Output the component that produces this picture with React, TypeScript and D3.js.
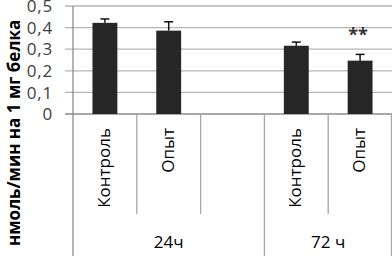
import React, { useEffect, useRef } from 'react'
import * as d3 from 'd3'

const categories = ['Контроль', 'Опыт', '', 'Контроль', 'Опыт']
const values = [0.422, 0.386, null, 0.316, 0.247]
const errors = [0.018, 0.041, null, 0.017, 0.029]
const marks = ['', '', '', '', '**']
const groups = ['24ч', '72 ч']
const groupSpans = [3, 2]
const yTicks = [0, 0.1, 0.2, 0.3, 0.4, 0.5]
const yTitle = 'нмоль/мин на 1 мг белка'

const App = () => {
  const svgRef = useRef<SVGSVGElement>(null)

  useEffect(() => {
    const width = 392
    const height = 256
    const left = 73
    const top = 6
    const base = 114
    const font = '"Open Sans", "Liberation Sans", sans-serif'

    const svg = d3.select(svgRef.current).attr('width', width).attr('height', height)
    svg.selectAll('*').remove()

    const slots = categories.map((_, i) => i)
    const x = d3.scaleBand<number>().domain(slots).range([left, width]).padding(0)
    const y = d3.scaleLinear().domain([0, 0.5]).range([base, top])
    const bw = x.bandwidth()

    // сетка
    svg
      .selectAll('line.grid')
      .data(yTicks)
      .join('line')
      .attr('x1', left - 8)
      .attr('x2', width)
      .attr('y1', (d) => y(d))
      .attr('y2', (d) => y(d))
      .attr('stroke', (d) => (d === 0 ? '#8c8c8c' : '#b5b5b5'))
      .attr('stroke-width', 1.3)

    svg
      .selectAll('text.tick')
      .data(yTicks)
      .join('text')
      .attr('x', 53)
      .attr('y', (d) => y(d))
      .attr('dy', '0.36em')
      .attr('text-anchor', 'end')
      .style('font-family', font)
      .style('font-size', '17px')
      .style('letter-spacing', '0.8px')
      .attr('fill', '#404040')
      .text((d) => (d === 0 ? '0' : d3.format('.1f')(d).replace('.', ',')))

    // ось и разделители категорий
    svg
      .append('line')
      .attr('x1', left)
      .attr('x2', left)
      .attr('y1', top)
      .attr('y2', height)
      .attr('stroke', '#8c8c8c')
      .attr('stroke-width', 1.3)

    const groupEnds: number[] = []
    let acc = 0
    groupSpans.forEach((s) => {
      acc += s
      groupEnds.push(acc)
    })

    svg
      .selectAll('line.sep')
      .data(slots.slice(1).concat([slots.length]))
      .join('line')
      .attr('x1', (d) => (d < slots.length ? (x(d) as number) : width - 0.5))
      .attr('x2', (d) => (d < slots.length ? (x(d) as number) : width - 0.5))
      .attr('y1', base)
      .attr('y2', (d) => (groupEnds.includes(d) ? height : 214))
      .attr('stroke', '#a6a6a6')
      .attr('stroke-width', 1.3)

    // столбики
    const barW = bw * 0.39
    const data = slots.filter((i) => values[i] != null)
    svg
      .selectAll('rect.bar')
      .data(data)
      .join('rect')
      .attr('x', (i) => (x(i) as number) + bw / 2 - barW / 2)
      .attr('y', (i) => y(values[i] as number))
      .attr('width', barW)
      .attr('height', (i) => base - y(values[i] as number))
      .attr('fill', '#262626')

    svg
      .selectAll('line.err')
      .data(data)
      .join('line')
      .attr('x1', (i) => (x(i) as number) + bw / 2)
      .attr('x2', (i) => (x(i) as number) + bw / 2)
      .attr('y1', (i) => y(values[i] as number))
      .attr('y2', (i) => y((values[i] as number) + (errors[i] as number)))
      .attr('stroke', '#111')
      .attr('stroke-width', 1.5)

    svg
      .selectAll('line.cap')
      .data(data)
      .join('line')
      .attr('x1', (i) => (x(i) as number) + bw / 2 - 4.5)
      .attr('x2', (i) => (x(i) as number) + bw / 2 + 4.5)
      .attr('y1', (i) => y((values[i] as number) + (errors[i] as number)))
      .attr('y2', (i) => y((values[i] as number) + (errors[i] as number)))
      .attr('stroke', '#111')
      .attr('stroke-width', 1.5)

    svg
      .selectAll('text.mark')
      .data(slots.filter((i) => marks[i]))
      .join('text')
      .attr('x', (i) => (x(i) as number) + bw / 2 - 2)
      .attr('y', 41)
      .attr('text-anchor', 'middle')
      .style('font-family', font)
      .style('font-size', '18px')
      .style('font-weight', 'bold')
      .attr('fill', '#333')
      .text((i) => marks[i])

    // подписи категорий
    svg
      .selectAll('text.cat')
      .data(slots.filter((i) => categories[i]))
      .join('text')
      .attr('transform', (i) => `translate(${(x(i) as number) + bw / 2 + 5},128) rotate(-90)`)
      .attr('text-anchor', 'end')
      .style('font-family', font)
      .style('font-size', '17px')
      .attr('fill', '#000')
      .text((i) => categories[i])

    let start = 0
    groups.forEach((g, k) => {
      const x0 = x(start) as number
      const x1 = start + groupSpans[k] < slots.length ? (x(start + groupSpans[k]) as number) : width
      svg
        .append('text')
        .attr('x', (x0 + x1) / 2)
        .attr('y', 248)
        .attr('text-anchor', 'middle')
        .style('font-family', font)
        .style('font-size', '17px')
        .attr('fill', '#000')
        .text(g)
      start += groupSpans[k]
    })

    svg
      .append('text')
      .attr('transform', 'translate(20,246) rotate(-90)')
      .attr('text-anchor', 'start')
      .style('font-family', font)
      .style('font-size', '17px')
      .style('font-weight', 'bold')
      .attr('fill', '#000')
      .text(yTitle)
  }, [])

  return (
    <svg ref={svgRef} style={{ position: 'absolute', left: 0, top: 0, background: '#fff' }}></svg>
  )
}

export default App
